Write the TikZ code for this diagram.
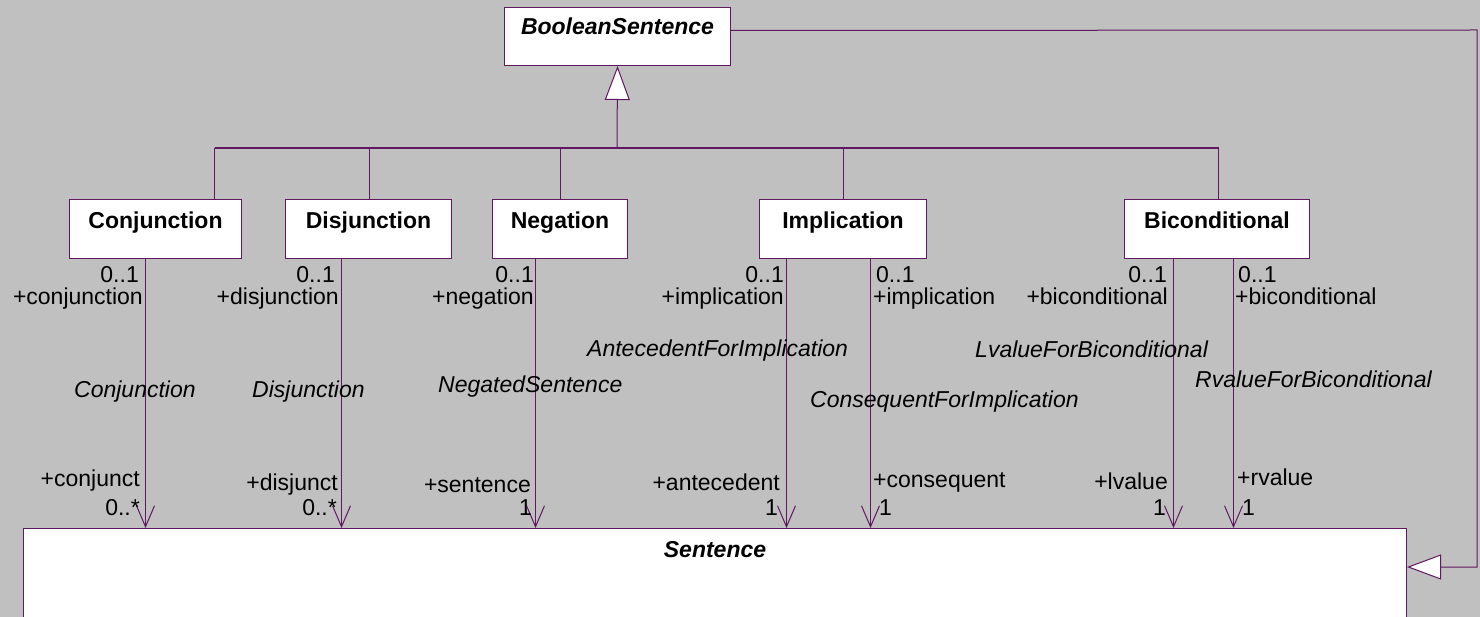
\documentclass[tikz,border=0pt]{standalone}
\usepackage{fontspec}
\setmainfont{Liberation Sans}
\usetikzlibrary{arrows.meta}
\definecolor{umlline}{RGB}{96,24,96}
\definecolor{canvas}{RGB}{192,192,192}
\begin{document}
\begin{tikzpicture}[x=1pt,y=-1pt,
  every node/.style={font=\fontsize{23}{27}\selectfont, inner sep=0pt},
  classbox/.style={draw=umlline, fill=white, line width=1pt, anchor=north west},
  classname/.style={anchor=base, font=\fontsize{23}{27}\selectfont\bfseries},
  genline/.style={draw=umlline, line width=1pt},
  busline/.style={draw=umlline, line width=2pt},
  gentip/.style={genline, -{Triangle[length=34pt, width=25pt, fill=white]}},
  assoc/.style={draw=umlline, line width=1pt, -{Straight Barb[length=21pt, width=18pt]}},
  lab/.style={anchor=base east},
  rlab/.style={anchor=base west},
  assocname/.style={anchor=base west, font=\fontsize{23}{27}\selectfont\itshape}
]
\fill[canvas] (0,0) rectangle (1480,617);
\useasboundingbox (0,0) rectangle (1480,617);
\clip (0,0) rectangle (1480,617);

% classes
\node[classbox, minimum width=226, minimum height=58] (bs) at (504,7) {};
\node[classname] (bsname) at ([yshift=-28pt]bs.north) {\textit{BooleanSentence}};
\node[classbox, minimum width=172, minimum height=59] (conj) at (69,199) {};
\node[classname] (conjname) at ([yshift=-30pt]conj.north) {Conjunction};
\node[classbox, minimum width=166, minimum height=59] (disj) at (285,199) {};
\node[classname] (disjname) at ([yshift=-30pt]disj.north) {Disjunction};
\node[classbox, minimum width=135, minimum height=59] (neg) at (492,199) {};
\node[classname] (negname) at ([yshift=-30pt]neg.north) {Negation};
\node[classbox, minimum width=167, minimum height=59] (impl) at (759,199) {};
\node[classname] (implname) at ([yshift=-30pt]impl.north) {Implication};
\node[classbox, minimum width=185, minimum height=59] (bicon) at (1124,199) {};
\node[classname] (biconname) at ([yshift=-30pt]bicon.north) {Biconditional};
\node[classbox, minimum width=1383, minimum height=170] (sent) at (23,528) {};
\node[classname] (sentname) at ([yshift=-29pt]sent.north) {\textit{Sentence}};

% generalization tree to BooleanSentence
\coordinate (bus) at (617,148.5);
\draw[genline] ([xshift=59pt]conj.north) coordinate (s1) -- (s1 |- bus);
\draw[genline] ([xshift=1pt]disj.north) coordinate (s2) -- (s2 |- bus);
\draw[genline] (neg.north) coordinate (s3) -- (s3 |- bus);
\draw[genline] ([xshift=0.5pt]impl.north) coordinate (s4) -- (s4 |- bus);
\draw[genline] ([xshift=1.5pt]bicon.north) coordinate (s5) -- (s5 |- bus);
\draw[busline] (s1 |- bus) -- (s5 |- bus);
\draw[gentip] (bus) -- (bs.south);

% BooleanSentence specializes Sentence
\coordinate (bsout) at ([yshift=6pt]bs.east);
\coordinate (corner) at (1477,30);
\coordinate (sentgen) at ([yshift=-39pt]sent.north east);
\draw[gentip] (bsout) -- (corner) |- (sentgen);

% associations
\draw[assoc] ([xshift=-10pt]conj.south) coordinate (a1) -- (a1 |- sent.north);
\draw[assoc] ([xshift=-27pt]disj.south) coordinate (a2) -- (a2 |- sent.north);
\draw[assoc] ([xshift=-24.5pt]neg.south) coordinate (a3) -- (a3 |- sent.north);
\draw[assoc] ([xshift=-56.5pt]impl.south) coordinate (a4) -- (a4 |- sent.north);
\draw[assoc] ([xshift=27.5pt]impl.south) coordinate (a5) -- (a5 |- sent.north);
\draw[assoc] ([xshift=-43.5pt]bicon.south) coordinate (a6) -- (a6 |- sent.north);
\draw[assoc] ([xshift=16.5pt]bicon.south) coordinate (a7) -- (a7 |- sent.north);

% Conjunction
\node[lab] (m1a) at (139,283) {0..1};
\node[lab] (r1a) at (143,305) {+conjunction};
\node[assocname] (n1) at (74,397) {Conjunction};
\node[lab] (r1b) at (140,486) {+conjunct};
\node[lab] (m1b) at (140,515) {0..*};

% Disjunction
\node[lab] (m2a) at (335,283) {0..1};
\node[lab] (r2a) at (339,305) {+disjunction};
\node[assocname] (n2) at (252,397) {Disjunction};
\node[lab] (r2b) at (338,490) {+disjunct};
\node[lab] (m2b) at (337,515) {0..*};

% NegatedSentence
\node[lab] (m3a) at (534,283) {0..1};
\node[lab] (r3a) at (534,305) {+negation};
\node[assocname] (n3) at (438,392) {NegatedSentence};
\node[lab] (r3b) at (531,492) {+sentence};
\node[lab] (m3b) at (532,515) {1};

% AntecedentForImplication
\node[lab] (m4a) at (784,283) {0..1};
\node[lab] (r4a) at (784,305) {+implication};
\node[assocname] (n4) at (587,357) {AntecedentForImplication};
\node[lab] (r4b) at (780,490) {+antecedent};
\node[lab] (m4b) at (778,515) {1};

% ConsequentForImplication
\node[rlab] (m5a) at (876,283) {0..1};
\node[rlab] (r5a) at (873,305) {+implication};
\node[assocname] (n5) at (810,407) {ConsequentForImplication};
\node[rlab] (r5b) at (873,487) {+consequent};
\node[rlab] (m5b) at (879,515) {1};

% LvalueForBiconditional
\node[lab] (m6a) at (1167,283) {0..1};
\node[lab] (r6a) at (1168,305) {+biconditional};
\node[assocname] (n6) at (975,358) {LvalueForBiconditional};
\node[lab] (r6b) at (1168,489) {+lvalue};
\node[lab] (m6b) at (1166,515) {1};

% RvalueForBiconditional
\node[rlab] (m7a) at (1238,283) {0..1};
\node[rlab] (r7a) at (1235,305) {+biconditional};
\node[assocname] (n7) at (1195,388) {RvalueForBiconditional};
\node[rlab] (r7b) at (1237,485) {+rvalue};
\node[rlab] (m7b) at (1242,515) {1};
\end{tikzpicture}
\end{document}
